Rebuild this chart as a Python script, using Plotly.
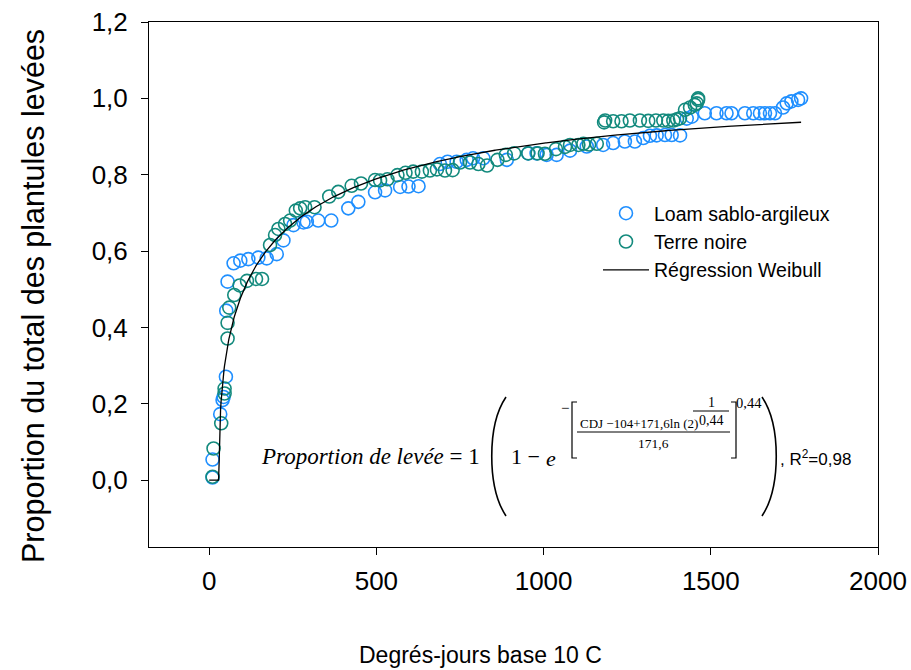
import numpy as np
import plotly.graph_objects as go

# ---------------- data ----------------
loam_x = [10, 10, 33, 40, 43, 50, 51, 55, 73, 93, 117, 147, 172, 202, 222, 252, 282, 292, 326, 365,
          416, 446, 496, 526, 571, 596, 626, 690, 713, 740, 770, 789, 820, 890, 954, 979, 1009, 1039,
          1079, 1129, 1178, 1208, 1243, 1273, 1298, 1318, 1338, 1363, 1383, 1408, 1428, 1443, 1482,
          1517, 1547, 1562, 1602, 1627, 1647, 1662, 1677, 1692, 1716, 1727, 1741, 1761, 1770]
loam_y = [0.007, 0.054, 0.173, 0.21, 0.218, 0.271, 0.444, 0.52, 0.568, 0.575, 0.579, 0.583, 0.581,
          0.592, 0.628, 0.668, 0.675, 0.677, 0.68, 0.68, 0.712, 0.729, 0.754, 0.759, 0.768, 0.769,
          0.77, 0.828, 0.834, 0.834, 0.839, 0.843, 0.843, 0.839, 0.856, 0.856, 0.852, 0.852, 0.863,
          0.874, 0.878, 0.883, 0.887, 0.887, 0.896, 0.902, 0.903, 0.904, 0.904, 0.903, 0.947, 0.952,
          0.961, 0.961, 0.961, 0.961, 0.961, 0.961, 0.961, 0.961, 0.961, 0.961, 0.976, 0.987, 0.992,
          0.996, 1.0]

noire_x = [10, 13, 36, 46, 46, 55, 55, 60, 75, 91, 113, 140, 158, 182, 197, 207, 227, 242, 259, 272,
           287, 315, 359, 386, 426, 454, 496, 511, 533, 563, 587, 610, 636, 660, 681, 705, 728, 750,
           780, 805, 831, 862, 887, 912, 954, 982, 1004, 1037, 1064, 1079, 1104, 1119, 1136, 1159,
           1181, 1184, 1208, 1233, 1258, 1288, 1313, 1336, 1358, 1373, 1388, 1399, 1408, 1423, 1438,
           1452, 1458, 1462, 1462]
noire_y = [0.009, 0.083, 0.149, 0.227, 0.24, 0.371, 0.412, 0.452, 0.485, 0.51, 0.522, 0.527, 0.527,
           0.616, 0.642, 0.658, 0.671, 0.68, 0.706, 0.712, 0.715, 0.715, 0.743, 0.755, 0.771, 0.777,
           0.786, 0.785, 0.788, 0.799, 0.805, 0.808, 0.808, 0.811, 0.814, 0.811, 0.812, 0.832, 0.832,
           0.828, 0.824, 0.839, 0.852, 0.856, 0.856, 0.856, 0.855, 0.867, 0.873, 0.878, 0.878, 0.881,
           0.879, 0.881, 0.937, 0.942, 0.94, 0.94, 0.942, 0.942, 0.941, 0.942, 0.942, 0.941, 0.942,
           0.945, 0.948, 0.97, 0.976, 0.983, 0.987, 0.996, 1.0]

# Weibull regression parameters (as printed on the chart)
weib_a = 104.0
weib_b = 171.6
weib_c = 0.44
curve_xmin, curve_xmax = 0, 1770

x_ticks = [0, 500, 1000, 1500, 2000]
y_ticks = [0.0, 0.2, 0.4, 0.6, 0.8, 1.0, 1.2]

# ---------------- regression curve ----------------
cx = np.linspace(curve_xmin, curve_xmax, 1200)
shift = weib_a - weib_b * np.log(2) ** (1 / weib_c)
z = np.clip((cx - shift) / weib_b, 0, None)
cy = 1 - np.exp(-(z ** weib_c))

BLUE = "#1f8fff"
GREEN = "#138a7d"

fig = go.Figure()
fig.add_trace(go.Scatter(x=loam_x, y=loam_y, mode="markers", name="Loam sablo-argileux",
                         marker=dict(symbol="circle-open", size=13, color=BLUE, line=dict(width=1.6))))
fig.add_trace(go.Scatter(x=noire_x, y=noire_y, mode="markers", name="Terre noire",
                         marker=dict(symbol="circle-open", size=13, color=GREEN, line=dict(width=1.6))))
fig.add_trace(go.Scatter(x=cx, y=cy, mode="lines", name="Régression Weibull",
                         line=dict(color="black", width=1.3)))

# plot area in pixels
L, R, T, B = 149, 878, 22, 547
W, H = 911, 670


def px(xp):
    return (xp - L) / (R - L)


def py(yp):
    return (B - yp) / (B - T)


anns = []


def txt(text, x, y, size, family="Liberation Serif", xanchor="center", yanchor="middle"):
    anns.append(dict(text=text, x=px(x), y=py(y), xref="paper", yref="paper", showarrow=False,
                     xanchor=xanchor, yanchor=yanchor,
                     font=dict(size=size, family=family, color="black")))


serif = "Liberation Serif"
# equation
txt("<i>Proportion de levée</i> = 1", 482, 456, 23, serif, xanchor="right")
txt("1 −", 509, 456, 22, serif, xanchor="left")
txt("<i>e</i>", 551, 458, 22, serif)
txt("−", 565, 408, 15, serif)
txt("CDJ −104+171,6ln (2)", 578, 423, 13, serif, xanchor="left")
txt("1", 711, 402, 14, serif)
txt("0,44", 711, 420, 14, serif)
txt("171,6", 653, 443, 13.5, serif)
txt("0,44", 749, 403, 14.5, serif)
txt(", R<sup>2</sup>=0,98", 778, 458, 17, "Liberation Sans", xanchor="left")

# axis titles
txt("Degrés-jours base 10 C", 480, 655, 23, "Liberation Sans")
anns.append(dict(text="Proportion du total des plantules levées", x=px(33), y=py(296),
                 xref="paper", yref="paper", showarrow=False, textangle=-90,
                 xanchor="center", yanchor="middle",
                 font=dict(size=30.5, family="Liberation Sans", color="black")))

shapes = []


def path(d_pts, width=1.3):
    shapes.append(dict(type="path", xref="paper", yref="paper", path=d_pts,
                       line=dict(color="black", width=width)))


def P(x, y):
    return f"{px(x)},{py(y)}"


# big parentheses
path(f"M{P(506, 397)} C{P(487, 425)} {P(487, 487)} {P(506, 516)}", 1.6)
path(f"M{P(762, 397)} C{P(781, 425)} {P(781, 487)} {P(762, 516)}", 1.6)
# brackets
path(f"M{P(577, 402)} L{P(572, 402)} L{P(572, 458)} L{P(577, 458)}", 1.2)
path(f"M{P(731, 402)} L{P(736, 402)} L{P(736, 458)} L{P(731, 458)}", 1.2)
# fraction bars
path(f"M{P(577, 432)} L{P(730, 432)}", 1.0)
path(f"M{P(693, 411)} L{P(729, 411)}", 1.0)

axis_font = dict(family="Liberation Sans", size=26, color="black")
fig.update_layout(
    width=W, height=H,
    margin=dict(l=L, r=W - R, t=T, b=H - B, autoexpand=False),
    paper_bgcolor="white", plot_bgcolor="white",
    separators=", ",
    showlegend=True,
    legend=dict(x=px(598), y=py(194), xanchor="left", yanchor="top",
                font=dict(family="Liberation Sans", size=19.5, color="black"),
                bgcolor="rgba(0,0,0,0)", itemwidth=46, tracegroupgap=0),
    annotations=anns,
    shapes=shapes,
)
fig.update_xaxes(range=[-180, 2000], tickvals=x_ticks, ticks="outside", ticklen=7,
                 ticklabelstandoff=4,
                 showline=True, linecolor="black", linewidth=1, mirror=True,
                 showgrid=False, zeroline=False, tickfont=axis_font, tickcolor="black")
fig.update_yaxes(range=[-0.175, 1.2], tickvals=y_ticks, tickformat=".1f", ticks="outside",
                 ticklen=7, ticklabelstandoff=8,
                 showline=True, linecolor="black", linewidth=1, mirror=True,
                 showgrid=False, zeroline=False, tickfont=axis_font, tickcolor="black")

fig.write_html("out.html")
